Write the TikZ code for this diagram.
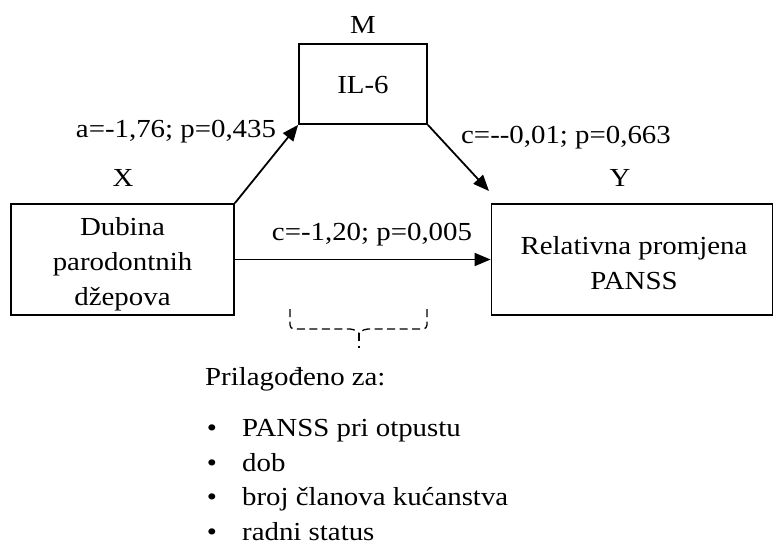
\documentclass[tikz,border=0pt]{standalone}
\usepackage{fontspec}
\setmainfont{Liberation Serif}[FakeStretch=1.11]
\usetikzlibrary{arrows.meta}
\begin{document}
\begin{tikzpicture}[x=1pt,y=-1pt,
  font=\fontsize{26}{35}\selectfont,
  box/.style={draw,line width=1.8pt,inner sep=0pt},
  boxtext/.style={inner sep=0pt,align=center},
  lab/.style={anchor=base,inner sep=0pt},
  arr/.style={line width=1.8pt,-{Triangle[length=16pt,width=13pt]}},
  brace/.style={line width=1.3pt,dash pattern=on 8pt off 4.5pt,rounded corners=4pt},
]
\useasboundingbox (0,0) rectangle (774,546);
\node[box,minimum width=223pt,minimum height=111pt] (X) at (122.5,259.5) {};
\node[box,minimum width=128pt,minimum height=80pt] (M) at (363,84) {};
\node[box,minimum width=281pt,minimum height=111pt] (Y) at (632,259.5) {};
\node[boxtext] (Xt) at (122.5,264.5) {Dubina\\parodontnih\\džepova};
\node[boxtext] (Mt) at (363,85) {IL-6};
\node[boxtext] (Yt) at (634,263) {Relativna promjena\\PANSS};
\node[lab] (Xl) at (123,186) {X};
\node[lab] (Ml) at (363,33) {M};
\node[lab] (Yl) at (620,186) {Y};
\node[lab] (la) at (176,137) {a=-1,76; p=0,435};
\node[lab] (lb) at (566,143) {c=-{}-0,01; p=0,663};
\node[lab] (lc) at (372,240) {c=-1,20; p=0,005};
\coordinate (tip) at (489,191);
\draw[arr] (X.north east) -- (M.south west);
\draw[arr] (M.south east) -- (tip);
\draw[arr] (X.east) -- (Y.west);
\coordinate (b1) at (290,309);
\coordinate (b2) at (427,309);
\coordinate (bm) at (359,333);
\coordinate (be) at (359,348);
\draw[brace] (b1) -- (290,329) -- (354,329) -- (bm);
\draw[brace] (b2) -- (427,329) -- (364,329) -- (bm);
\draw[brace] (bm) -- (be);
\node[lab,anchor=base west] (adj) at (205,385) {Prilagođeno za:};
\node[lab] (d1) at (212,436) {\textbullet};
\node[lab] (d2) at (212,471) {\textbullet};
\node[lab] (d3) at (212,505) {\textbullet};
\node[lab] (d4) at (212,540) {\textbullet};
\node[lab,anchor=base west] (t1) at (242,436) {PANSS pri otpustu};
\node[lab,anchor=base west] (t2) at (242,471) {dob};
\node[lab,anchor=base west] (t3) at (242,505) {broj članova kućanstva};
\node[lab,anchor=base west] (t4) at (242,540) {radni status};
\end{tikzpicture}
\end{document}
